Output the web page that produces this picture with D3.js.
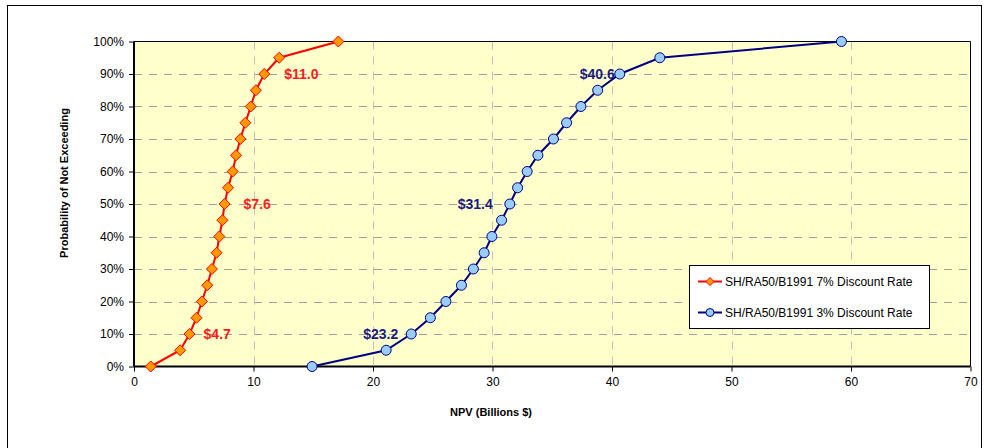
<!DOCTYPE html>
<html><head><meta charset="utf-8">
<script src="https://cdn.jsdelivr.net/npm/d3@7"></script>
<style>body{margin:0;background:#fff}svg{display:block;font-family:"Liberation Sans",Arial,sans-serif}</style>
</head><body><svg id="c" width="984" height="448"></svg>
<script>
const probs = [0,5,10,15,20,25,30,35,40,45,50,55,60,65,70,75,80,85,90,95,100];
const npv7 = [1.4,3.86,4.65,5.23,5.68,6.13,6.52,6.91,7.14,7.4,7.58,7.87,8.26,8.54,8.9,9.32,9.77,10.2,10.9,12.15,17.1];
const npv3 = [14.9,21.1,23.2,24.8,26.1,27.4,28.4,29.3,29.95,30.76,31.45,32.1,32.9,33.8,35.1,36.2,37.4,38.8,40.65,44.0,59.2];
const seriesNames = ["SH/RA50/B1991 7% Discount Rate","SH/RA50/B1991 3% Discount Rate"];
const xTicks = [0,10,20,30,40,50,60,70];
const yTicks = [0,10,20,30,40,50,60,70,80,90,100];
const labels7 = [{i:2,t:"$4.7"},{i:10,t:"$7.6"},{i:18,t:"$11.0"}];
const labels3 = [{i:2,t:"$23.2"},{i:10,t:"$31.4"},{i:18,t:"$40.6"}];

const svg = d3.select("#c");
const L=134, R=970.5, T=41.5, B=366.5;
const x = d3.scaleLinear().domain([0,70]).range([L,R]);
const y = d3.scaleLinear().domain([0,100]).range([B,T]);
// label offsets (px) relative to the point
const off7 = [14,19,20];
const off3 = [-13,-17,-5];

// outer frame
svg.append("rect").attr("x",7.5).attr("y",5.5).attr("width",974).attr("height",470)
  .attr("fill","#fff").attr("stroke","#000").attr("stroke-width",1);

// plot background
svg.append("rect").attr("x",L).attr("y",T).attr("width",R-L).attr("height",B-T).attr("fill","#ffffcc");

// grid
const g = svg.append("g");
g.selectAll(".hg").data(yTicks.filter(d=>d>0&&d<100)).join("line")
  .attr("x1",L).attr("x2",R).attr("y1",d=>Math.round(y(d))+0.5).attr("y2",d=>Math.round(y(d))+0.5)
  .attr("stroke","#a0a0a0").attr("stroke-dasharray","8,7");
g.selectAll(".vg").data(xTicks.filter(d=>d>0&&d<70)).join("line")
  .attr("y1",T).attr("y2",B).attr("x1",d=>Math.round(x(d))+0.5).attr("x2",d=>Math.round(x(d))+0.5)
  .attr("stroke","#c0c0c0").attr("stroke-dasharray","8,7");

// plot border top/right
svg.append("path").attr("d",`M${L},${T}H${R}V${B}`).attr("fill","none").attr("stroke","#000").attr("stroke-width",1);

// axes
const xAxis = d3.axisBottom(x).tickValues(xTicks).tickSize(5).tickPadding(6).tickFormat(d3.format("d"));
const gx = svg.append("g").attr("transform",`translate(0,${B})`).call(xAxis);
gx.select(".domain").attr("stroke","#000").attr("stroke-width",2).attr("d",`M${L},0H${R}`);
gx.selectAll("text").attr("font-size",12).attr("font-family","Liberation Sans, Arial").attr("fill","#000");

const yAxis = d3.axisLeft(y).tickValues(yTicks).tickSize(5).tickPadding(5).tickFormat(d=>d+"%");
const gy = svg.append("g").attr("transform",`translate(${L},0)`).call(yAxis);
gy.select(".domain").attr("stroke","#000").attr("stroke-width",2).attr("d",`M0,${T}V${B}`);
gy.selectAll("text").attr("font-size",12).attr("font-family","Liberation Sans, Arial").attr("fill","#000");

// axis titles
svg.append("text").attr("x",491).attr("y",416).attr("text-anchor","middle")
  .attr("font-size",11).attr("font-weight","bold").text("NPV (Billions $)");
svg.append("text").attr("transform","translate(68,183) rotate(-90)").attr("text-anchor","middle")
  .attr("font-size",11).attr("font-weight","bold").text("Probability of Not Exceeding");

// series
const line = d3.line().x(d=>x(d[0])).y(d=>y(d[1]));
const d7 = npv7.map((v,i)=>[v,probs[i]]);
const d3s = npv3.map((v,i)=>[v,probs[i]]);

svg.append("path").datum(d7).attr("d",line).attr("fill","none").attr("stroke","#ff0000").attr("stroke-width",2);
svg.append("path").datum(d3s).attr("d",line).attr("fill","none").attr("stroke","#000080").attr("stroke-width",2);

svg.append("g").selectAll("path").data(d7).join("path")
  .attr("transform",d=>`translate(${x(d[0])},${y(d[1])})`)
  .attr("d","M0,-5.5L5.5,0L0,5.5L-5.5,0Z").attr("fill","#ff9900").attr("stroke","#ff0000").attr("stroke-width",1);
svg.append("g").selectAll("circle").data(d3s).join("circle")
  .attr("cx",d=>x(d[0])).attr("cy",d=>y(d[1])).attr("r",5)
  .attr("fill","#99ccff").attr("stroke","#000080").attr("stroke-width",1);

// data labels
svg.append("g").selectAll("text").data(labels7).join("text")
  .attr("x",(d,k)=>x(npv7[d.i])+off7[k]).attr("y",d=>y(probs[d.i])+5)
  .attr("font-size",14).attr("font-weight","bold").attr("fill","#ff1a1a").text(d=>d.t);
svg.append("g").selectAll("text").data(labels3).join("text")
  .attr("x",(d,k)=>x(npv3[d.i])+off3[k]).attr("y",d=>y(probs[d.i])+5).attr("text-anchor","end")
  .attr("font-size",14).attr("font-weight","bold").attr("fill","#1a1a80").text(d=>d.t);

// legend
const lg = svg.append("g");
lg.append("rect").attr("x",689.5).attr("y",265.5).attr("width",240).attr("height",63)
  .attr("fill","#fff").attr("stroke","#000").attr("stroke-width",1);
const items = [{n:seriesNames[0],c:"#ff0000",t:"d"},{n:seriesNames[1],c:"#000080",t:"c"}];
items.forEach((it,i)=>{
  const yy = 281.5 + i*31;
  lg.append("line").attr("x1",698).attr("x2",722).attr("y1",yy).attr("y2",yy).attr("stroke",it.c).attr("stroke-width",2);
  if(it.t==="d") lg.append("path").attr("transform",`translate(710,${yy})`).attr("d","M0,-4L4,0L0,4L-4,0Z")
      .attr("fill","#ff9900").attr("stroke","#ff0000");
  else lg.append("circle").attr("cx",710).attr("cy",yy).attr("r",4).attr("fill","#99ccff").attr("stroke","#000080");
  lg.append("text").attr("x",725).attr("y",yy+4.5).attr("font-size",12).attr("fill","#000").text(it.n);
});
</script></body></html>
